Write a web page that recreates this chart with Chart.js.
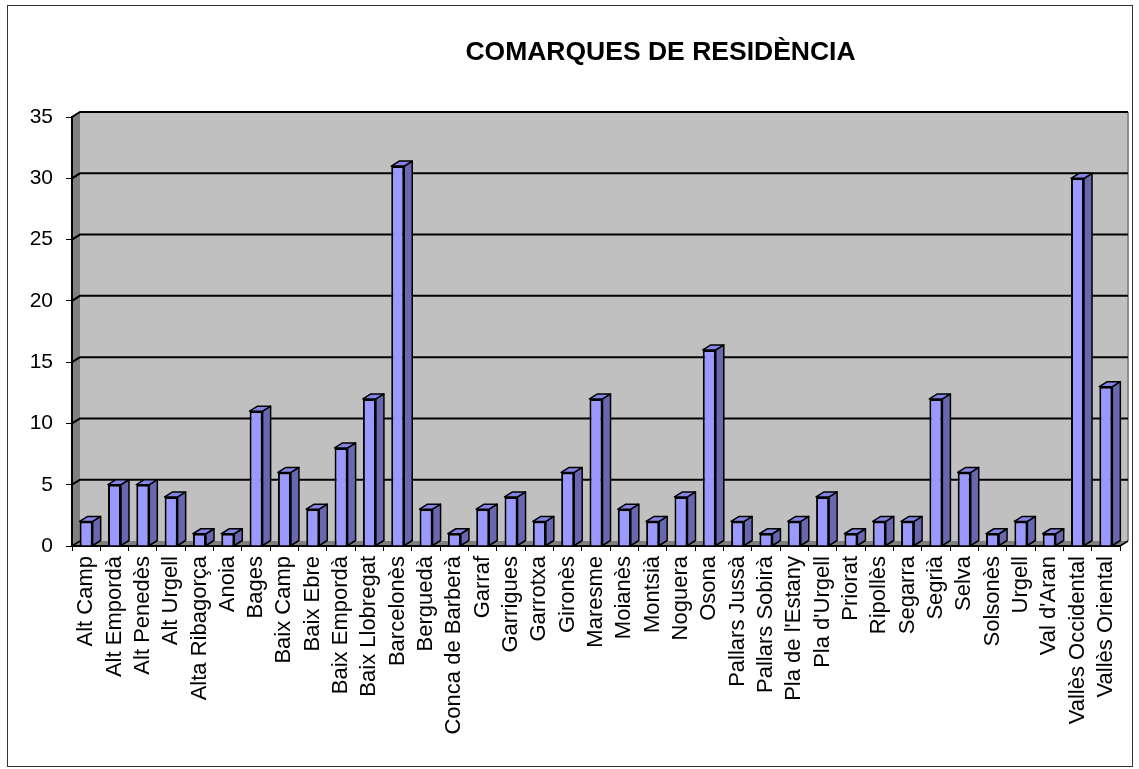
<!DOCTYPE html>
<html>
<head>
<meta charset="utf-8">
<style>
  html, body { margin: 0; padding: 0; background: #fff; }
  canvas { display: block; }
</style>
<script src="https://cdn.jsdelivr.net/npm/chart.js@4"></script>
</head>
<body>
<canvas id="myChart" width="1139" height="769"></canvas>
<script>
const chartTitle = 'COMARQUES DE RESIDÈNCIA';

const comarques = [
  'Alt Camp', 'Alt Empordà', 'Alt Penedès', 'Alt Urgell', 'Alta Ribagorça', 'Anoia',
  'Bages', 'Baix Camp', 'Baix Ebre', 'Baix Empordà', 'Baix Llobregat', 'Barcelonès',
  'Berguedà', 'Conca de Barberà', 'Garraf', 'Garrigues', 'Garrotxa', 'Gironès',
  'Maresme', 'Moianès', 'Montsià', 'Noguera', 'Osona', 'Pallars Jussà', 'Pallars Sobirà',
  "Pla de l'Estany", "Pla d'Urgell", 'Priorat', 'Ripollès', 'Segarra', 'Segrià', 'Selva',
  'Solsonès', 'Urgell', "Val d'Aran", 'Vallès Occidental', 'Vallès Oriental'
];

const residents = [
  2, 5, 5, 4, 1, 1,
  11, 6, 3, 8, 12, 31,
  3, 1, 3, 4, 2, 6,
  12, 3, 2, 4, 16, 2, 1,
  2, 4, 1, 2, 2, 12, 6,
  1, 2, 1, 30, 13
];

// depth of the fake 3d
const dx = 8;
const dy = 5;

function poly(ctx, pts, fill, stroke, lineWidth) {
  ctx.beginPath();
  pts.forEach((p, i) => (i ? ctx.lineTo(p[0], p[1]) : ctx.moveTo(p[0], p[1])));
  ctx.closePath();
  if (fill) {
    ctx.fillStyle = fill;
    ctx.fill();
  }
  if (stroke) {
    ctx.strokeStyle = stroke;
    ctx.lineWidth = lineWidth || 2;
    ctx.stroke();
  }
}

const frame3d = {
  id: 'frame3d',
  beforeDraw(chart) {
    const { ctx, chartArea: a, scales } = chart;
    ctx.save();
    ctx.fillStyle = '#fff';
    ctx.fillRect(0, 0, chart.width, chart.height);

    // outer border
    ctx.strokeStyle = '#333';
    ctx.lineWidth = 1;
    ctx.strokeRect(7.5, 5.5, 1125, 761);

    // back wall and side wall
    poly(ctx, [[a.left + dx, a.top - dy], [a.right + dx, a.top - dy], [a.right + dx, a.bottom - dy], [a.left + dx, a.bottom - dy]], '#c0c0c0');
    poly(ctx, [[a.left, a.top], [a.left + dx, a.top - dy], [a.left + dx, a.bottom - dy], [a.left, a.bottom]], '#808080');

    ctx.strokeStyle = '#8c8c8c';
    ctx.lineWidth = 2;
    ctx.beginPath();
    ctx.moveTo(a.right + dx, a.top - dy);
    ctx.lineTo(a.right + dx, a.bottom - dy);
    ctx.stroke();

    // grid lines go along the back wall and down the side wall
    ctx.strokeStyle = '#000';
    ctx.lineWidth = 2;
    scales.y.ticks.forEach((t) => {
      if (t.value === 0) return;
      const y = scales.y.getPixelForValue(t.value);
      ctx.beginPath();
      ctx.moveTo(a.left, y);
      ctx.lineTo(a.left + dx, y - dy);
      ctx.lineTo(a.right + dx, y - dy);
      ctx.stroke();
    });

    // floor
    poly(ctx, [[a.left, a.bottom], [a.left + dx, a.bottom - dy], [a.right + dx, a.bottom - dy], [a.right, a.bottom]], '#808080');
    ctx.lineWidth = 1.5;
    ctx.beginPath();
    ctx.moveTo(a.left, a.bottom);
    ctx.lineTo(a.left + dx, a.bottom - dy);
    ctx.moveTo(a.right, a.bottom);
    ctx.lineTo(a.right + dx, a.bottom - dy);
    ctx.stroke();
    ctx.restore();
  },
  afterDatasetsDraw(chart) {
    const { ctx } = chart;
    ctx.save();
    ctx.lineJoin = 'round';
    chart.getDatasetMeta(0).data.forEach((bar) => {
      const l = bar.x - bar.width / 2;
      const r = bar.x + bar.width / 2;
      poly(ctx, [[r, bar.y], [r + dx, bar.y - dy], [r + dx, bar.base - dy], [r, bar.base]], '#6868b0', '#000', 1.5);
      poly(ctx, [[l, bar.y], [l + dx, bar.y - dy], [r + dx, bar.y - dy], [r, bar.y]], '#8484e4', '#000', 1.5);
    });
    ctx.restore();
  },
  afterDraw(chart) {
    const { ctx } = chart;
    ctx.save();
    ctx.fillStyle = '#000';
    ctx.font = 'bold 26.5px "Liberation Sans", Arial, sans-serif';
    ctx.textAlign = 'center';
    ctx.textBaseline = 'middle';
    ctx.fillText(chartTitle, 660.5, 53);
    ctx.restore();
  }
};

const ctx = document.getElementById('myChart').getContext('2d');
const myChart = new Chart(ctx, {
  type: 'bar',
  data: {
    labels: comarques,
    datasets: [{
      data: residents,
      backgroundColor: '#9999ff',
      borderColor: '#000',
      borderWidth: 2,
      barPercentage: 0.46,
      categoryPercentage: 1
    }]
  },
  plugins: [frame3d],
  options: {
    responsive: false,
    animation: false,
    layout: { padding: { top: 117, right: 19, left: 0, bottom: 0 } },
    plugins: {
      legend: { display: false },
      title: { display: false },
      tooltip: { enabled: false }
    },
    scales: {
      x: {
        afterFit(scale) { scale.height = 223; },
        border: { color: '#000', width: 2 },
        grid: { drawOnChartArea: false, color: '#000', tickLength: 5, lineWidth: 1 },
        ticks: {
          autoSkip: false,
          minRotation: 90,
          maxRotation: 90,
          color: '#000',
          padding: 5,
          font: { family: '"Liberation Sans", Arial, sans-serif', size: 22 }
        }
      },
      y: {
        min: 0,
        max: 35,
        afterFit(scale) { scale.width = 72; },
        border: { color: '#000', width: 2 },
        grid: { drawOnChartArea: false, color: '#000', tickLength: 6, lineWidth: 1 },
        ticks: {
          stepSize: 5,
          color: '#000',
          padding: 13,
          font: { family: '"Liberation Sans", Arial, sans-serif', size: 21 }
        }
      }
    }
  }
});
</script>
</body>
</html>
